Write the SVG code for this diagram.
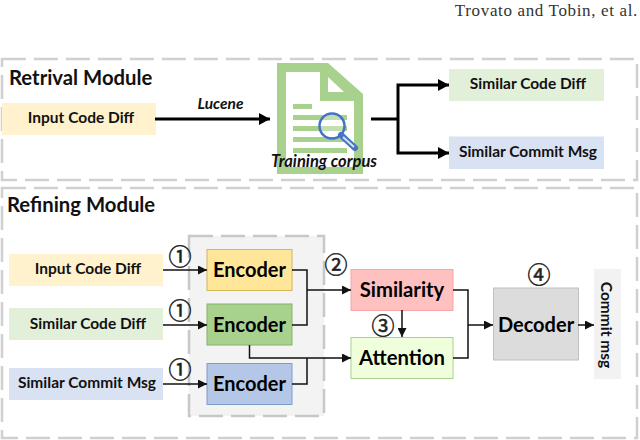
<svg xmlns="http://www.w3.org/2000/svg" width="640" height="440" viewBox="0 0 640 440">
<defs>
<marker id="a" markerUnits="userSpaceOnUse" markerWidth="12" markerHeight="12" refX="11" refY="6" orient="auto"><path d="M0 0L11 6L0 12Z" fill="#000"/></marker>
<marker id="b" markerUnits="userSpaceOnUse" markerWidth="9" markerHeight="9" refX="9" refY="4.500" orient="auto"><path d="M0 0L9 4.500L0 9Z" fill="#111"/></marker>
</defs>
<style>
text{font-family:"Lato","Liberation Sans",sans-serif;fill:#111;text-anchor:middle}
.d{fill:none;stroke:#d0d0d0;stroke-width:2.500;stroke-dasharray:24 8}
.t{font-weight:700;font-size:20.300px}
.s{font-weight:700;font-size:15.500px}
.e{font-weight:700;font-size:20px;fill:#000}
.x{font-weight:700;font-size:20.300px;fill:#000}
.n{font-family:"Noto Sans CJK SC","DejaVu Sans",sans-serif;font-size:23px;fill:#222;stroke:#222;stroke-width:.5}
.c{fill:none;stroke:#111;stroke-width:1.500}
.h{fill:none;stroke:#000;stroke-width:3}
.g{fill:#a9d18e}
.i{font-style:italic;font-weight:700}
</style>
<rect width="640" height="440" fill="#fff"/>
<text x="638" y="15.500" style="font-family:'Liberation Serif',serif;font-size:17px;text-anchor:end;fill:#333;letter-spacing:.65px">Trovato and Tobin, et al.</text>
<g id="retrieval-frame"><rect class="d" x="2" y="59" width="635" height="121"/><text class="t" x="9" y="85" style="text-anchor:start">Retrival Module</text></g>
<g id="refining-frame"><rect class="d" x="2" y="188" width="635" height="250"/><text class="t" x="7" y="212" style="text-anchor:start">Refining Module</text></g>
<g id="encoder-frame"><rect x="189" y="236" width="135" height="180" fill="#f3f3f3" stroke="#c8c8c8" stroke-width="2.500" stroke-dasharray="24 8"/></g>
<g id="input-top"><rect x="2" y="103" width="154" height="32" fill="#fff2cc"/><text class="s" x="81" y="123">Input Code Diff</text></g>
<g id="corpus">
<path class="g" d="M277 63H328L363 94V174H277Z"/>
<path fill="#fff" d="M286 72H320V101H354V167H286Z"/>
<path fill="#fff" d="M328 77L344 92H328Z"/>
<rect class="g" x="293" y="104" width="19" height="5"/>
<rect class="g" x="293" y="115" width="54" height="5"/>
<rect class="g" x="293" y="126" width="54" height="5"/>
<rect class="g" x="293" y="137" width="54" height="5"/>
<rect class="g" x="293" y="148" width="54" height="5"/>
<circle cx="332" cy="126" r="12.500" fill="#fff" fill-opacity=".3" stroke="#4472c4" stroke-width="2.500"/>
<path d="M341 135L355 148" stroke="#4472c4" stroke-width="6" stroke-linecap="round"/>
<path d="M343 137L354 147" stroke="#d9e2f3" stroke-width="2"/>
<text class="i" x="324" y="167" style="font-size:16.500px">Training corpus</text>
</g>
<g id="similar-top"><rect x="449" y="69" width="155" height="32" fill="#e2efd9"/><text class="s" x="528" y="89">Similar Code Diff</text></g>
<g id="msg-top"><rect x="449" y="136.500" width="155" height="32.500" fill="#d9e2f3"/><text class="s" x="528" y="157">Similar Commit Msg</text></g>
<g id="input-ref"><rect x="9" y="254" width="154" height="32" fill="#fff2cc"/><text class="s" x="88" y="274">Input Code Diff</text></g>
<g id="similar-ref"><rect x="9" y="308" width="154" height="32" fill="#e2efd9"/><text class="s" x="88" y="329">Similar Code Diff</text></g>
<g id="msg-ref"><rect x="9" y="368" width="154" height="32" fill="#d9e2f3"/><text class="s" x="87" y="388">Similar Commit Msg</text></g>
<g id="enc1"><rect x="207" y="249.500" width="85" height="41" fill="#ffe699" stroke="#d6b656"/><text class="e" x="249.500" y="277">Encoder</text></g>
<g id="enc2"><rect x="207" y="304" width="85" height="41" fill="#a9d18e" stroke="#82b366"/><text class="e" x="249.500" y="332">Encoder</text></g>
<g id="enc3"><rect x="207" y="363.500" width="85" height="41" fill="#b4c7e7" stroke="#7f9ccb"/><text class="e" x="249.500" y="391">Encoder</text></g>
<g id="similarity"><rect x="351" y="269.500" width="102" height="41" fill="#ffc0c0" stroke="#f4a6a6"/><text class="x" x="402" y="297">Similarity</text></g>
<g id="attention"><rect x="351" y="337.500" width="102" height="41" fill="#efffdc" stroke="#a9d18e"/><text class="x" x="402" y="365">Attention</text></g>
<g id="decoder"><rect x="493.500" y="288" width="85" height="72" fill="#dcdcdc" stroke="#c0c0c0"/><text class="e" x="536" y="332">Decoder</text></g>
<g id="output"><rect x="594" y="269" width="27" height="110" fill="#f2f2f2"/><text class="s" transform="translate(601 325) rotate(90)">Commit msg</text></g>
<g id="badges">
<text class="n" x="180" y="265">①</text><text class="n" x="180" y="319">①</text><text class="n" x="180" y="378">①</text>
<text class="n" x="336" y="273">②</text><text class="n" x="383" y="334">③</text><text class="n" x="539" y="283">④</text>
</g>
<g id="connectors">
<path class="h" d="M155 119H270" marker-end="url(#a)"/><text class="i" x="220.500" y="109" style="font-size:15.500px">Lucene</text>
<path class="h" d="M371 119H398"/>
<path class="h" d="M398 119V85H449" marker-end="url(#a)"/>
<path class="h" d="M398 119V153H449" marker-end="url(#a)"/>
<path class="c" d="M163 270H207" marker-end="url(#b)"/>
<path class="c" d="M163 325H207" marker-end="url(#b)"/>
<path class="c" d="M163 384H207" marker-end="url(#b)"/>
<path class="c" d="M292 270H307V325H292"/>
<path class="c" d="M307 290H351" marker-end="url(#b)"/>
<path class="c" d="M249.500 345V358H351" marker-end="url(#b)"/>
<path class="c" d="M292 384H307V358"/>
<path class="c" d="M402 310V337" marker-end="url(#b)"/>
<path class="c" d="M453 290H468V358H453"/>
<path class="c" d="M468 325H493" marker-end="url(#b)"/>
<path class="c" d="M578 325H594" marker-end="url(#b)"/>
</g>
</svg>
